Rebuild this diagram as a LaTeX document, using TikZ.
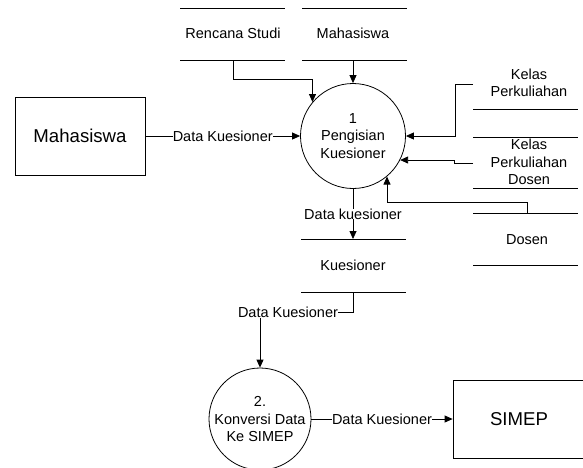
\documentclass[tikz,border=0pt]{standalone}
\usepackage{fontspec}
\setmainfont{Liberation Sans}
\usetikzlibrary{arrows.meta}
\begin{document}
\begin{tikzpicture}[x=1pt,y=-1pt,
  line width=0.8pt,
  every node/.style={font=\fontsize{14.5}{17.5}\selectfont, align=center, inner sep=1pt},
  arr/.style={-{Triangle[length=8pt,width=7pt]}},
  proc/.style={draw, circle, inner sep=0pt},
  ent/.style={draw, rectangle, font=\fontsize{18.6}{22}\selectfont},
  lbl/.style={fill=white, inner sep=0pt},
  storeline/.style={line width=0.8pt}]
\useasboundingbox (0,0) rectangle (583,467);
\clip (0,0) rectangle (583,467);
% processes
\node[proc, minimum size=105pt] (p1) at (353,136) {1\\Pengisian\\Kuesioner};
\node[proc, minimum size=102pt] (p2) at (260,419) {2.\\Konversi Data\\Ke SIMEP};
% entities
\node[ent, minimum width=130pt, minimum height=78pt] (mhs) at (80,136) {Mahasiswa};
\node[ent, minimum width=132pt, minimum height=78pt] (simep) at (519,419) {SIMEP};
% data stores
\node (rs) at (233,33) {Rencana Studi};
\draw[storeline] (180,8) -- (285,8) (180,60) -- (285,60);
\node (ms) at (353,33) {Mahasiswa};
\draw[storeline] (302,8) -- (407,8) (302,60) -- (407,60);
\node (kp) at (529,83) {Kelas\\Perkuliahan};
\draw[storeline] (473,109) -- (578,109);
\node (kpd) at (529,162) {Kelas\\Perkuliahan\\Dosen};
\draw[storeline] (473,137) -- (578,137) (473,188) -- (578,188);
\node (dos) at (527,240) {Dosen};
\draw[storeline] (473,213) -- (578,213) (473,265) -- (578,265);
\node (kq) at (353,265) {Kuesioner};
\draw[storeline] (301,239) -- (406,239) (301,292) -- (406,292);
% connector end points
\coordinate (rsb) at (233,60);
\coordinate (msb) at (353,60);
\coordinate (kpl) at (473,84);
\coordinate (kpdl) at (473,163);
\coordinate (dost) at (527,213);
\coordinate (kqt) at (353,239);
\coordinate (kqb) at (353,292);
% connectors
\draw[arr] (rsb) -- ++(0,19) -| (p1.140);
\draw[arr] (msb) -- (p1.north);
\draw[arr] (mhs.east) -- node[lbl] {Data Kuesioner} (p1.west);
\draw[arr] (kpl) -- ++(-18,0) |- (p1.east);
\draw[arr] (kpdl) -- ++(-19,0) |- (p1.-27);
\draw[arr] (dost) -- ++(0,-11) -| (p1.-50);
\draw[arr] (p1.south) -- node[lbl] {Data kuesioner} (kqt);
\node[inner sep=0pt] (dk2) at (288,312) {Data Kuesioner};
\draw (kqb) |- (dk2.east);
\draw[arr] (dk2.south -| p2.north) -- (p2.north);
\draw[arr] (p2.east) -- node[lbl] {Data Kuesioner} (simep.west);
\end{tikzpicture}
\end{document}
